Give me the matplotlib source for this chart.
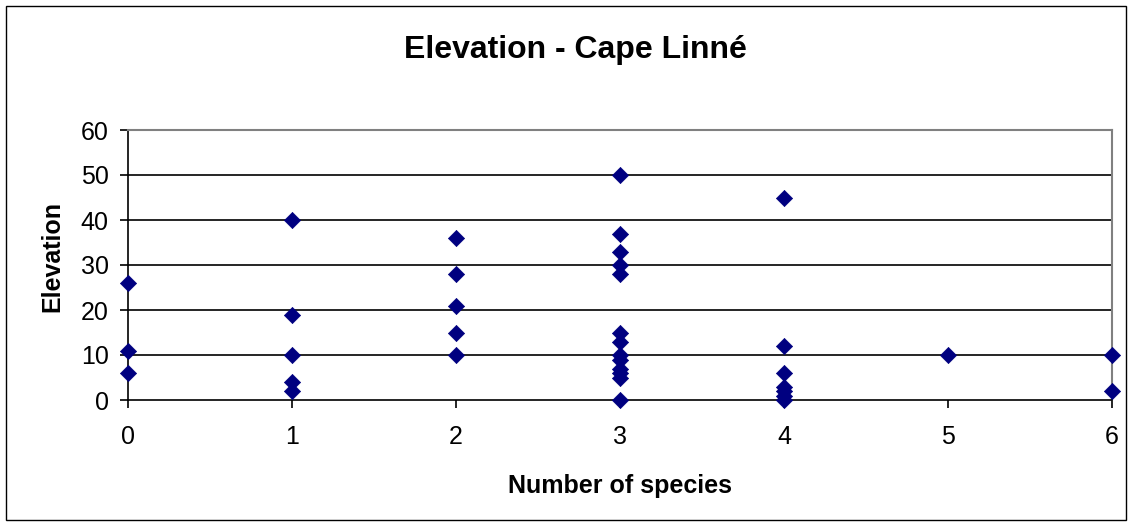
import matplotlib.pyplot as plt
from matplotlib.patches import Rectangle

plt.rcParams["font.family"] = ["Liberation Sans", "DejaVu Sans"]

# Elevation readings grouped by number of species found at the site
species_0 = [26, 11, 6]
species_1 = [40, 19, 10, 4, 2]
species_2 = [36, 28, 21, 15, 10]
species_3 = [50, 37, 33, 30, 28, 15, 13, 10, 9, 7, 6, 5, 0]
species_4 = [45, 12, 6, 3, 2, 1, 0]
species_5 = [10]
species_6 = [10, 2]

groups = [species_0, species_1, species_2, species_3, species_4, species_5, species_6]
num_species = []
elevation = []
for n, vals in enumerate(groups):
    num_species += [n] * len(vals)
    elevation += vals

W, H = 1132, 525
fig = plt.figure(figsize=(W / 100, H / 100), dpi=100)
fig.patch.set_facecolor("white")

# outer chart frame
fig.patches.append(Rectangle((6 / W, 5 / H), 1120 / W, 514 / H, transform=fig.transFigure,
                             fill=False, edgecolor="black", linewidth=1.0))

ax = fig.add_axes([128 / W, 1 - 400 / H, 984 / W, 270 / H])
ax.set_xlim(0, 6)
ax.set_ylim(0, 60)

ax.set_yticks(range(0, 61, 10))
ax.set_xticks(range(0, 7))
for y in range(10, 60, 10):
    ax.axhline(y, color="black", linewidth=1.2, zorder=1)

ax.scatter(num_species, elevation, marker="D", s=68, color="#000080",
           edgecolors="#000080", linewidths=0.5, zorder=3, clip_on=False)

ax.spines["left"].set_color("black")
ax.spines["bottom"].set_color("black")
ax.spines["left"].set_linewidth(1.2)
ax.spines["bottom"].set_linewidth(1.2)
ax.spines["top"].set_color("#808080")
ax.spines["right"].set_color("#808080")
ax.spines["top"].set_linewidth(1.5)
ax.spines["right"].set_linewidth(1.5)

ax.tick_params(axis="both", direction="out", length=6, width=1.2, colors="black",
               labelsize=18, pad=8)
ax.tick_params(axis="x", pad=12)

ax.set_xlabel("Number of species", fontsize=18, fontweight="bold", labelpad=18)
ax.set_ylabel("Elevation", fontsize=18, fontweight="bold", va="center")
ax.yaxis.set_label_coords(-0.077, 0.533)
fig.text(575 / W, 1 - 50 / H, "Elevation - Cape Linné", fontsize=23, fontweight="bold",
         ha="center", va="center")

fig.savefig("out.png", dpi=100, facecolor="white")
